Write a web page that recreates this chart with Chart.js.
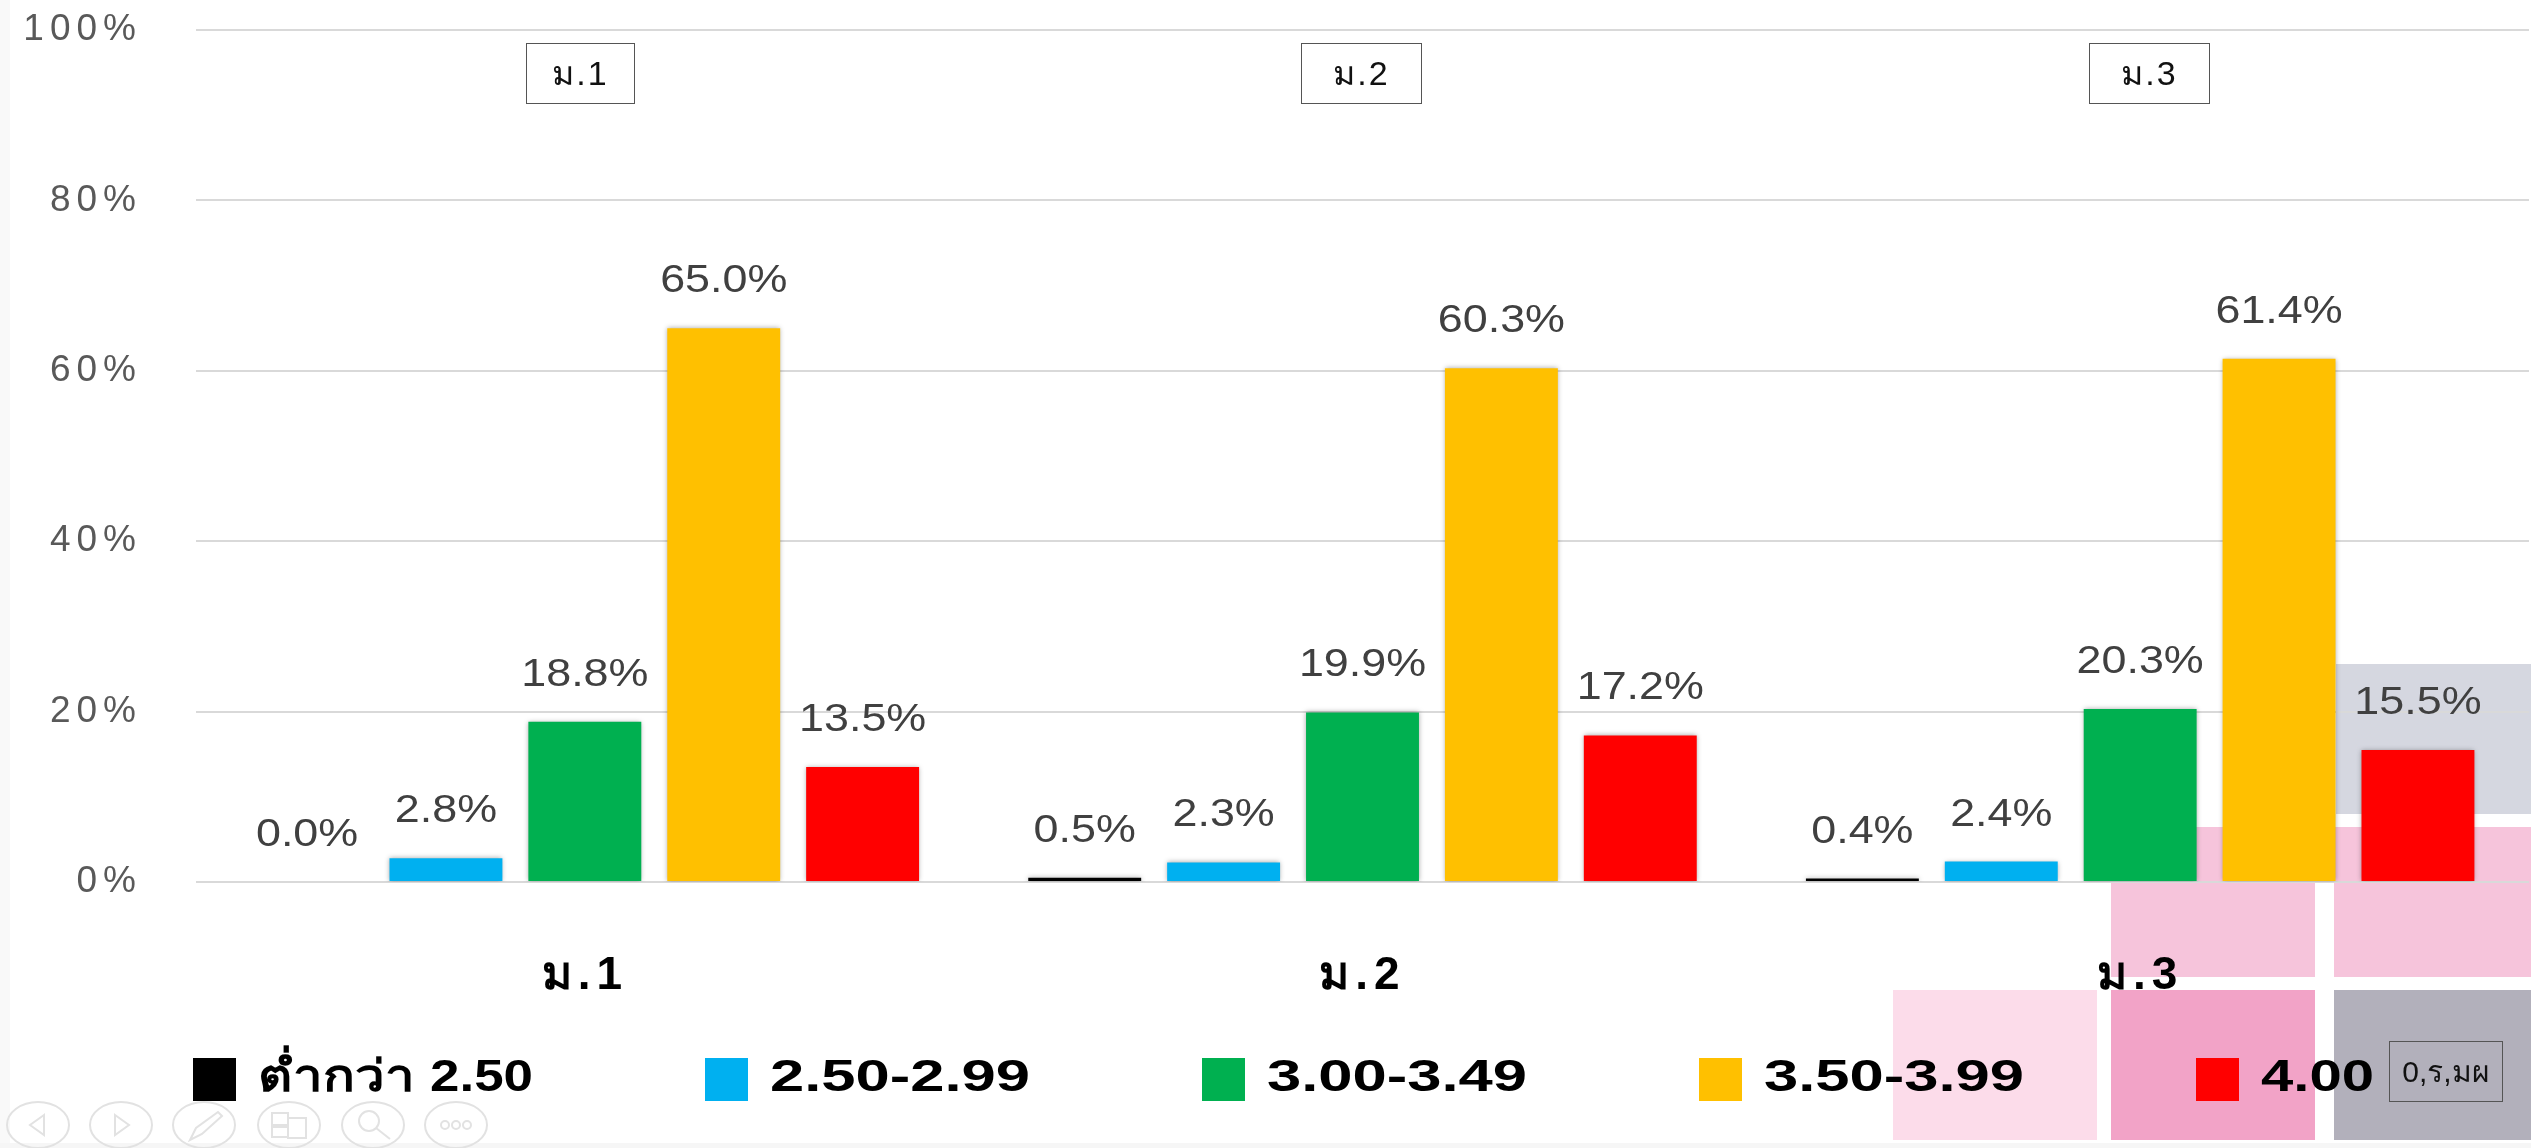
<!DOCTYPE html>
<html>
<head>
<meta charset="utf-8">
<script src="https://cdn.jsdelivr.net/npm/chart.js@4"></script>
<style>
html, body { margin: 0; padding: 0; background: #fff; }
#wrap { position: relative; width: 2531px; height: 1148px; overflow: hidden; }
#wrap canvas { position: absolute; left: 0; top: 0; }
.bg { position: absolute; }
.box { position: absolute; box-sizing: border-box; border: 1.5px solid #555; text-align: center; color: #111;
       font-family: "Liberation Sans", "Noto Sans", sans-serif; letter-spacing: 2px; }
#edge { position: absolute; left: 0; top: 0; width: 10px; height: 1148px; background: #f9f9f9; }
#edge2 { position: absolute; left: 0; top: 1143px; width: 2531px; height: 5px; background: #f6f6f6; }
#nav { position: absolute; left: 0; top: 1090px; }
</style>
</head>
<body>
<div id="wrap">
    <div id="edge"></div>
    <div id="edge2"></div>
    <div class="bg" style="left:2336px;top:664px;width:195px;height:150px;background:#d5d7e0"></div>
    <div class="bg" style="left:2111px;top:827px;width:204px;height:150px;background:#f6c4db"></div>
    <div class="bg" style="left:2334px;top:827px;width:197px;height:150px;background:#f6c4db"></div>
    <div class="bg" style="left:1893px;top:990px;width:204px;height:150px;background:#fcdcea"></div>
    <div class="bg" style="left:2111px;top:990px;width:204px;height:150px;background:#f2a3c7"></div>
    <div class="bg" style="left:2334px;top:990px;width:197px;height:150px;background:#b2b0bb"></div>
    <svg id="nav" width="500" height="58" fill="none" stroke="#e2e2e2" stroke-width="2">
        <ellipse cx="38" cy="35" rx="31" ry="23"/><path d="M44 25 L30 35 L44 45 Z"/>
        <ellipse cx="121" cy="35" rx="31" ry="23"/><path d="M115 25 L129 35 L115 45 Z"/>
        <ellipse cx="204" cy="35" rx="31" ry="23"/><path d="M190 50 L196 38 L218 22 L222 26 L202 44 Z"/>
        <ellipse cx="289" cy="35" rx="31" ry="23"/><rect x="272" y="23" width="16" height="12"/><rect x="272" y="37" width="16" height="10"/><rect x="288" y="28" width="18" height="20"/>
        <ellipse cx="373" cy="35" rx="31" ry="23"/><circle cx="369" cy="31" r="10"/><path d="M376 38 L390 49"/>
        <ellipse cx="456" cy="35" rx="31" ry="23"/><circle cx="445" cy="35" r="4"/><circle cx="456" cy="35" r="4"/><circle cx="467" cy="35" r="4"/>
    </svg>
    <canvas id="grade_chart" width="2531" height="1148"></canvas>
    <div class="box" style="left:526px;top:43px;width:109px;height:61px;line-height:59px;font-size:34px">ม.1</div>
    <div class="box" style="left:1301px;top:43px;width:121px;height:61px;line-height:59px;font-size:34px">ม.2</div>
    <div class="box" style="left:2089px;top:43px;width:121px;height:61px;line-height:59px;font-size:34px">ม.3</div>
    <div class="box" style="left:2389px;top:1041px;width:114px;height:61px;line-height:59px;font-size:30px;letter-spacing:0">0,ร,มผ</div>
</div>
<script>
var categories = ['ม.1', 'ม.2', 'ม.3'];
var seriesNames = ['ต่ำกว่า 2.50', '2.50-2.99', '3.00-3.49', '3.50-3.99', '4.00'];
var below250 = [0.0, 0.5, 0.4];
var from250 = [2.8, 2.3, 2.4];
var from300 = [18.8, 19.9, 20.3];
var from350 = [65.0, 60.3, 61.4];
var grade400 = [13.5, 17.2, 15.5];
var seriesColors = ['#000000', '#00B0F0', '#00B050', '#FFC000', '#FF0000'];
var legendTextWidths = [275, 260, 260, 260, 113];

var fontName = '"Liberation Sans", "Noto Sans", sans-serif';

// ระยะห่างตัวอักษรของ tick แกน y
var spacingPlugin = {
    id: 'spacing',
    beforeDraw: function (chart) {
        chart.ctx.letterSpacing = '6px';
    }
};

var barShadow = {
    id: 'barShadow',
    beforeDatasetsDraw: function (chart) {
        chart.ctx.save();
        chart.ctx.shadowColor = 'rgba(0, 0, 0, 0.35)';
        chart.ctx.shadowBlur = 5;
    },
    afterDatasetsDraw: function (chart) {
        chart.ctx.restore();
    }
};

var valueLabels = {
    id: 'valueLabels',
    afterDatasetsDraw: function (chart) {
        var ctx = chart.ctx;
        ctx.save();
        ctx.font = '39px ' + fontName;
        ctx.letterSpacing = '0px';
        ctx.fillStyle = '#404040';
        ctx.textAlign = 'center';
        ctx.textBaseline = 'alphabetic';
        chart.data.datasets.forEach(function (ds, d) {
            chart.getDatasetMeta(d).data.forEach(function (bar, i) {
                ctx.save();
                ctx.translate(bar.x, bar.y - 36);
                ctx.scale(1.15, 1);
                ctx.fillText(ds.data[i].toFixed(1) + '%', 0, 0);
                ctx.restore();
            });
        });
        ctx.restore();
    }
};

// legend วาดเอง เพราะ padding ของ legend ปกติทำให้กล่องสูงเกินไป
var bottomLegend = {
    id: 'bottomLegend',
    afterDraw: function (chart) {
        var ctx = chart.ctx;
        var x = 193;
        ctx.save();
        ctx.font = 'bold 44px ' + fontName;
        ctx.letterSpacing = '0px';
        ctx.textBaseline = 'alphabetic';
        ctx.textAlign = 'left';
        chart.data.datasets.forEach(function (ds, i) {
            ctx.fillStyle = ds.backgroundColor;
            ctx.fillRect(x, 1058, 43, 43);
            ctx.fillStyle = '#000';
            // ตัวอักษรในภาพต้นฉบับถูกยืดแนวนอน
            ctx.save();
            ctx.translate(x + 65, 1091);
            ctx.scale(legendTextWidths[i] / ctx.measureText(ds.label).width, 1);
            ctx.fillText(ds.label, 0, 0);
            ctx.restore();
            x += 65 + legendTextWidths[i] + 172;
        });
        ctx.restore();
    }
};

var seriesValues = [below250, from250, from300, from350, grade400];

new Chart(document.getElementById('grade_chart'), {
    type: 'bar',
    data: {
        labels: categories,
        datasets: seriesNames.map(function (name, i) {
            return {
                label: name,
                data: seriesValues[i],
                backgroundColor: seriesColors[i],
                categoryPercentage: 0.893,
                barPercentage: 0.813
            };
        })
    },
    options: {
        responsive: false,
        animation: false,
        layout: { padding: { top: 30, right: 2 } },
        plugins: { legend: { display: false }, tooltip: { enabled: false } },
        scales: {
            x: {
                grid: { display: false },
                border: { display: false },
                afterFit: function (scale) { scale.height = 266; },
                ticks: {
                    padding: 59,
                    color: '#000',
                    font: { family: fontName, size: 46, weight: 'bold' }
                }
            },
            y: {
                min: 0,
                max: 100,
                afterFit: function (scale) {
                    scale.width = 196;
                    scale.paddingTop = 0;
                    scale.paddingBottom = 0;
                },
                grid: { color: '#d9d9d9', lineWidth: 2, drawTicks: false },
                border: { display: false },
                ticks: {
                    stepSize: 20,
                    padding: 54,
                    color: '#595959',
                    font: { family: fontName, size: 37 },
                    callback: function (v) { return v + '%'; }
                }
            }
        }
    },
    plugins: [spacingPlugin, barShadow, valueLabels, bottomLegend]
});
</script>
</body>
</html>
